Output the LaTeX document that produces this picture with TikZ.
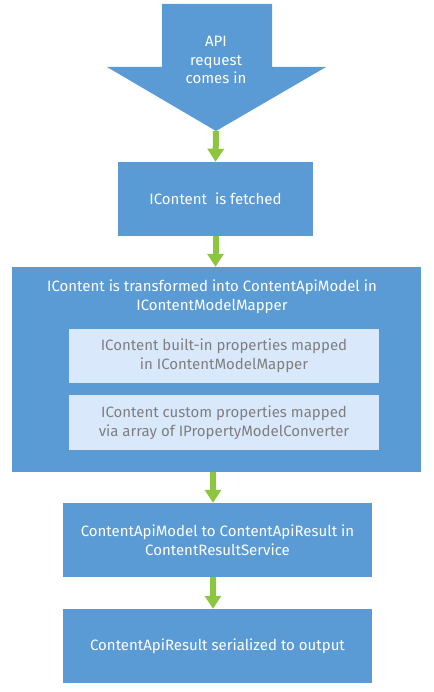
\documentclass[tikz,border=0pt]{standalone}
\usepackage{fontspec}
\setmainfont{Fira Sans}
\usetikzlibrary{arrows.meta}

\definecolor{boxblue}{HTML}{5B9BD5}
\definecolor{innerblue}{HTML}{DAE8FC}
\definecolor{flowgreen}{HTML}{8CC63F}
\definecolor{innergrey}{HTML}{7F7F7F}

\tikzset{
  bluebox/.style={fill=boxblue, text=white, align=center, inner sep=0pt,
    font=\fontsize{15}{19}\selectfont},
  innerbox/.style={fill=innerblue, text=innergrey, align=center, inner sep=0pt,
    minimum width=310pt, font=\fontsize{15}{19}\selectfont},
  flow/.style={flowgreen, line width=6pt, -{Triangle[width=16pt,length=13pt]}}
}

\begin{document}
\begin{tikzpicture}[x=1pt,y=-1pt]
\useasboundingbox (0,0) rectangle (433,692);
% \draw[step=50,gray,very thin] (0,0) grid (433,692);

% block arrow at the top
\fill[boxblue] (162,4) -- (272,4) -- (272,67) -- (326,67) -- (216,131)
  -- (107,67) -- (162,67) -- cycle;
\node[align=center, text=white, font=\fontsize{15}{18.5}\selectfont] (request) at (216,60) {API\\request\\comes in};
\coordinate (tip) at (216,131);
\coordinate (axis) at (213,0);

\node[bluebox, minimum width=195pt, minimum height=74pt] (fetch) at (215.5,199) {IContent\ \ is fetched};

\node[bluebox, minimum width=409pt, minimum height=205pt] (transform) at (216.5,369.5) {};
\node[align=center, text=white, font=\fontsize{15}{19}\selectfont] (title) at (212,296.5)
  {IContent is transformed into ContentApiModel in\\IContentModelMapper};
\node[innerbox, minimum height=54pt] (builtin) at (224,356)
  {IContent built-in properties mapped\\in IContentModelMapper};
\node[innerbox, minimum height=55pt] (custom) at (224,422.5)
  {IContent custom properties mapped\\via array of IPropertyModelConverter};

\node[bluebox, minimum width=309pt, minimum height=74pt] (result) at (217.5,540)
  {ContentApiModel to ContentApiResult in\\ContentResultService};
\node[bluebox, minimum width=309pt, minimum height=74pt] (output) at (217.5,646)
  {ContentApiResult serialized to output};

\draw[flow] (tip) -- (fetch.north);
\draw[flow] (fetch.south) -- (transform.north -| fetch.south);
\draw[flow] (transform.south -| axis) -- (result.north -| axis);
\draw[flow] (result.south -| axis) -- (output.north -| axis);
\end{tikzpicture}
\end{document}
